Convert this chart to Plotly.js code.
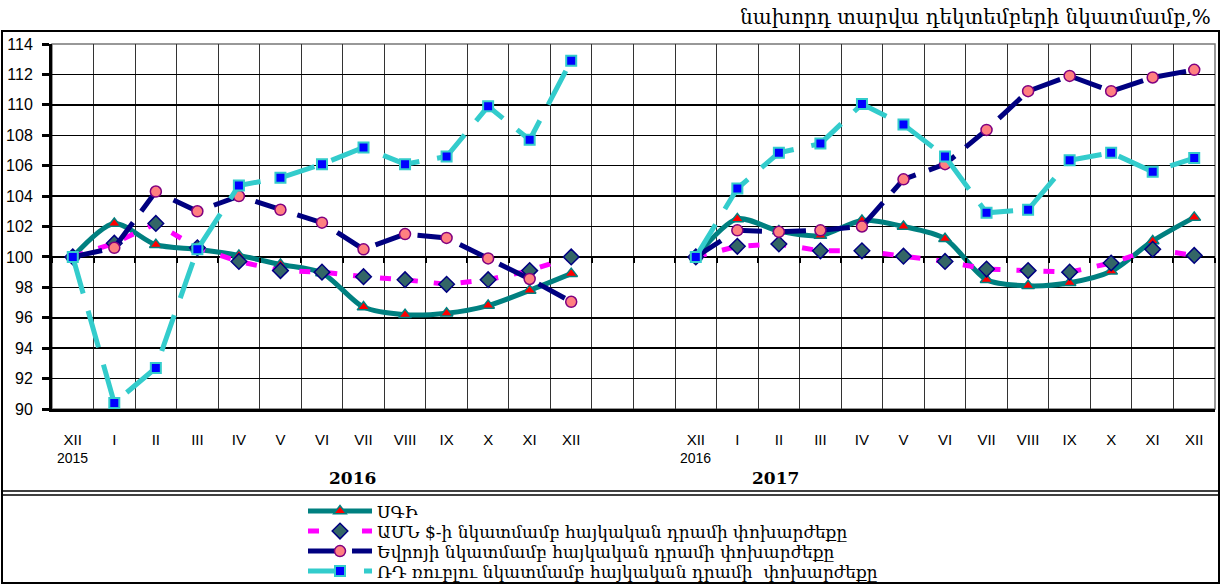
<!DOCTYPE html>
<html><head><meta charset="utf-8">
<script src="https://cdn.plot.ly/plotly-3.0.1.min.js"></script>
<style>html,body{margin:0;padding:0;background:#fff}#chart{width:1221px;height:584px}</style>
</head><body><div id="chart"></div><script>
// month labels of each 13-point block
const months = ['XII','I','II','III','IV','V','VI','VII','VIII','IX','X','XI','XII'];
// index-based positions: block 1 = 0..12, two empty slots, block 2 = 15..27
const gapSlots = 2;
// ՍԳԻ (CPI)
const cpi2016 = [100,102.2,100.8,100.5,100.1,99.5,98.95,96.7,96.2,96.3,96.8,97.8,98.9];
const cpi2017 = [100,102.5,101.7,101.4,102.4,102.0,101.2,98.5,98.1,98.3,99.05,101.05,102.6];
// USD
const usd2016 = [100,100.9,102.2,100.6,99.7,99.1,99.0,98.7,98.5,98.2,98.5,99.1,100.0];
const usd2017 = [100,100.7,100.85,100.4,100.4,100.05,99.7,99.2,99.1,99.0,99.6,100.5,100.1];
// EUR
const eur2016 = [100,100.6,104.3,103.0,104.0,103.1,102.25,100.5,101.5,101.25,99.9,98.55,97.05];
const eur2017 = [100,101.75,101.65,101.75,102.0,105.1,106.1,108.35,110.9,111.9,110.9,111.8,112.3];
// RUB
const rub2016 = [100,90.4,92.7,100.5,104.7,105.2,106.1,107.2,106.1,106.6,109.9,107.7,112.9];
const rub2017 = [100,104.5,106.85,107.45,110.05,108.7,106.6,102.9,103.1,106.35,106.85,105.6,106.5];

const seriesNames = [
  'ՍԳԻ',
  'ԱՄՆ $-ի նկատմամբ հայկական դրամի փոխարժեքը',
  'Եվրոյի նկատմամբ հայկական դրամի փոխարժեքը',
  'ՌԴ ռուբլու նկատմամբ հայկական դրամի  փոխարժեքը'
];
const yearTitles = ['2016','2017'];
const baseYears = ['2015','2016'];
const unitText = 'նախորդ տարվա դեկտեմբերի նկատմամբ,%';

const n = months.length;
const blank = new Array(gapSlots).fill(null);
const xs = [];
for (let i = 0; i < 2*n + gapSlots; i++) xs.push(i);
const join = (a,b) => a.concat(blank, b);
const tickvals = [], ticktext = [];
months.forEach((m,i)=>{tickvals.push(i); ticktext.push(m);});
months.forEach((m,i)=>{tickvals.push(n+gapSlots+i); ticktext.push(m);});
const nCat = 2*n + gapSlots;

const traces = [
  {x:xs, y:join(cpi2016,cpi2017), name:seriesNames[0], type:'scatter', mode:'lines+markers', legend:'legend',
   line:{color:'#008080', width:5, shape:'spline', smoothing:0.8},
   marker:{symbol:'triangle-up', size:11, color:'#FF0000', line:{color:'#008080', width:1.5}}},
  {x:xs, y:join(usd2016,usd2017), name:seriesNames[1], type:'scatter', mode:'lines+markers', legend:'legend2',
   line:{color:'#FF00FF', width:5, dash:'11px,16px'},
   marker:{symbol:'diamond', size:12, color:'#336666', line:{color:'#000080', width:1.5}}},
  {x:xs, y:join(eur2016,eur2017), name:seriesNames[2], type:'scatter', mode:'lines+markers', legend:'legend3',
   line:{color:'#000080', width:5, dash:'30px,14px'},
   marker:{symbol:'circle', size:11, color:'#FF8080', line:{color:'#800080', width:1.5}}},
  {x:xs, y:join(rub2016,rub2017), name:seriesNames[3], type:'scatter', mode:'lines+markers', legend:'legend4',
   line:{color:'#33CCCC', width:5, dash:'38px,18px'},
   marker:{symbol:'square', size:10, color:'#0000FF', line:{color:'#33CCCC', width:2}}},
  {x:[null], y:[null], xaxis:'x2', showlegend:false, hoverinfo:'skip', mode:'markers'}
];

const py = p => (409 - p)/365;   // pixel row -> paper y
const px = p => (p - 52)/1163;   // pixel col -> paper x

const legFont = {family:'DejaVu Serif', size:17, color:'#000'};
const legBase = {x:px(303), xanchor:'left', yanchor:'middle', font:legFont, itemwidth:64, bgcolor:'rgba(0,0,0,0)'};

const layout = {
  width:1221, height:584,
  margin:{l:52, r:6, t:44, b:175, pad:0, autoexpand:false},
  paper_bgcolor:'#fff', plot_bgcolor:'#fff',
  showlegend:true,
  legend: Object.assign({}, legBase, {y:py(511.5)}),
  legend2: Object.assign({}, legBase, {y:py(531.5)}),
  legend3: Object.assign({}, legBase, {y:py(551.5)}),
  legend4: Object.assign({}, legBase, {y:py(571.5)}),
  xaxis:{range:[-0.5, nCat-0.5], tickmode:'array', tickvals:tickvals, ticktext:ticktext,
    showgrid:false, zeroline:false, showline:true, linecolor:'#000', linewidth:2.5,
    ticks:'', ticklabelstandoff:15,
    tickfont:{family:'Liberation Sans, Arial', size:15, color:'#000'},
    minor:{tickmode:'linear', tick0:-0.5, dtick:1, showgrid:true, gridcolor:'#333', gridwidth:1, ticks:''},
    fixedrange:true},
  xaxis2:{overlaying:'x', anchor:'free', position:10/24, side:'bottom',
    range:[-0.5, nCat-0.5], tickmode:'linear', tick0:-0.5, dtick:1,
    ticks:'outside', ticklen:5, tickwidth:2, tickcolor:'#000',
    showticklabels:false, showgrid:false, showline:false, zeroline:false, fixedrange:true},
  yaxis:{range:[90,114], tickmode:'linear', tick0:90, dtick:2,
    showgrid:true, gridcolor:'#000', gridwidth:1.5, zeroline:false,
    showline:true, linecolor:'#000', linewidth:3,
    ticks:'outside', ticklen:7, tickwidth:3, tickcolor:'#000', ticklabelstandoff:6,
    tickfont:{family:'Liberation Sans, Arial', size:16, color:'#000'}, fixedrange:true},
  shapes:[
    {type:'rect', xref:'paper', yref:'paper', x0:0, x1:1, y0:0, y1:1, layer:'below',
     line:{color:'#777', width:1.5}},
    {type:'rect', xref:'paper', yref:'paper', x0:px(2), x1:px(1219), y0:py(583), y1:py(31),
     line:{color:'#000', width:2}},
    {type:'line', xref:'paper', yref:'paper', x0:px(2), x1:px(1219), y0:py(491), y1:py(491),
     line:{color:'#000', width:1.5}},
    {type:'line', xref:'paper', yref:'paper', x0:px(2), x1:px(1219), y0:py(495), y1:py(495),
     line:{color:'#000', width:1.5}}
  ],
  annotations:[
    {xref:'paper', yref:'paper', x:px(1213), y:py(17), xanchor:'right', yanchor:'middle',
     text:unitText, showarrow:false, font:{family:'DejaVu Serif', size:20, color:'#000'}},
    {xref:'x', yref:'paper', x:0, y:py(458), xanchor:'center', yanchor:'middle',
     text:baseYears[0], showarrow:false, font:{family:'Liberation Sans, Arial', size:14, color:'#000'}},
    {xref:'x', yref:'paper', x:n+gapSlots, y:py(458), xanchor:'center', yanchor:'middle',
     text:baseYears[1], showarrow:false, font:{family:'Liberation Sans, Arial', size:14, color:'#000'}},
    {xref:'paper', yref:'paper', x:px(352), y:py(478), xanchor:'center', yanchor:'middle',
     text:'<b>'+yearTitles[0]+'</b>', showarrow:false, font:{family:'DejaVu Serif', size:17, color:'#000'}},
    {xref:'paper', yref:'paper', x:px(775), y:py(478), xanchor:'center', yanchor:'middle',
     text:'<b>'+yearTitles[1]+'</b>', showarrow:false, font:{family:'DejaVu Serif', size:17, color:'#000'}}
  ]
};
Plotly.newPlot('chart', traces, layout, {displayModeBar:false, staticPlot:true});
</script></body></html>
